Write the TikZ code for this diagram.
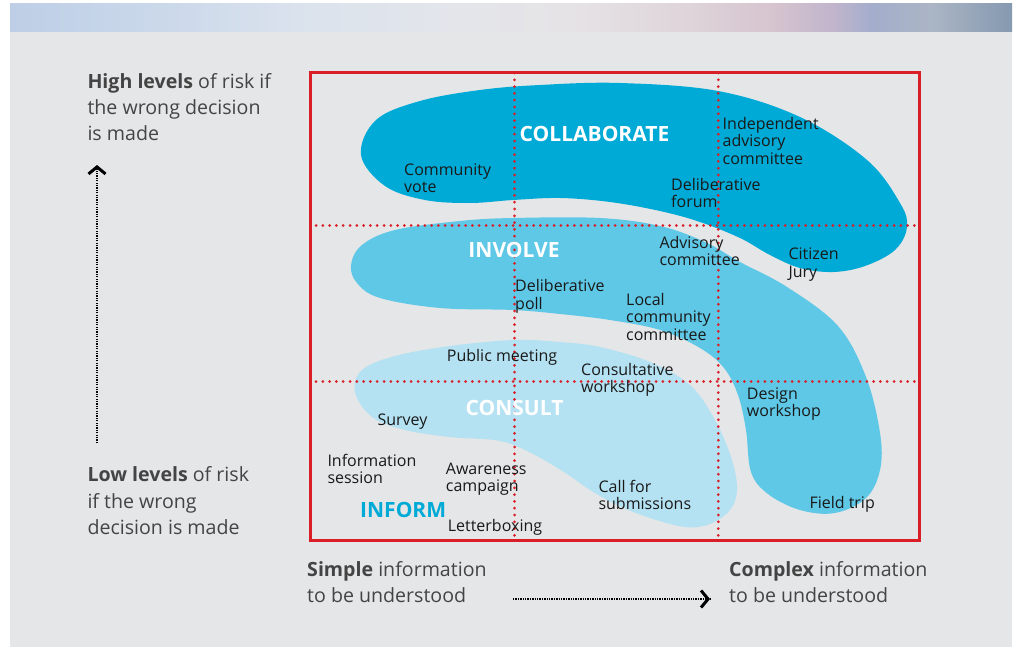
\documentclass[tikz,border=0pt]{standalone}
\usepackage{fontspec}
\setmainfont{Open Sans}
\usetikzlibrary{arrows.meta}
\definecolor{panel}{RGB}{229,230,232}
\definecolor{collab}{RGB}{0,170,214}
\definecolor{involvec}{RGB}{94,200,230}
\definecolor{consultc}{RGB}{181,226,242}
\definecolor{redline}{RGB}{218,30,40}
\definecolor{ink}{RGB}{25,25,25}
\definecolor{grayink}{RGB}{68,68,68}
\pgfdeclarehorizontalshading{bandshade}{100bp}{%
rgb(0bp)=(0.745,0.808,0.902);
rgb(25bp)=(0.745,0.808,0.902);
rgb(29bp)=(0.77,0.83,0.91);
rgb(33bp)=(0.80,0.85,0.92);
rgb(40bp)=(0.86,0.89,0.93);
rgb(47bp)=(0.89,0.9,0.92);
rgb(53bp)=(0.9,0.89,0.9);
rgb(59bp)=(0.87,0.83,0.85);
rgb(63bp)=(0.84,0.77,0.81);
rgb(66bp)=(0.76,0.71,0.80);
rgb(68bp)=(0.64,0.68,0.80);
rgb(71bp)=(0.67,0.71,0.77);
rgb(75bp)=(0.52,0.60,0.69);
rgb(100bp)=(0.52,0.60,0.69)}
\newcommand\lns[1]{\begin{tabular}[t]{@{}l@{}}#1\end{tabular}}
\begin{document}
\begin{tikzpicture}[x=1pt,y=-1pt,
  lbl/.style={anchor=base west, inner sep=0pt, text=ink, font=\fontsize{16}{17.5}\selectfont},
  side/.style={anchor=base west, inner sep=0pt, text=grayink, font=\fontsize{19.6}{26.3}\selectfont},
  stage/.style={anchor=base, inner sep=0pt, text=white, font=\fontsize{21}{21}\selectfont\bfseries},
  gridline/.style={redline, line width=3pt, line cap=round, dash pattern=on 0pt off 6.8pt},
  axisline/.style={black, line width=2pt, dash pattern=on 1.3pt off 1.1pt},
  axishead/.style={black, line width=2pt, -{Straight Barb[length=7pt,width=17pt,line width=3pt 0]}}]
\useasboundingbox (0,0) rectangle (1024,669);
\fill[white] (0,0) rectangle (1024,669);
\fill[panel] (10,4) rectangle (1012,647);
\shade[shading=bandshade] (10,4) rectangle (1012,32);

% blobs
\fill[collab] plot[smooth cycle, tension=0.6] coordinates {(361,155) (376,120) (420,101) (480,90) (540,85) (620,83) (718,91) (800,117) (867,160) (900,203) (907,227) (895,250) (865,266) (833,272) (800,268) (770,255) (740,238) (700,222) (660,211) (610,202) (560,198) (513,200) (470,203) (425,200) (385,186)};
\fill[involvec] plot[smooth cycle, tension=0.6] coordinates {(351,265) (362,245) (395,230) (460,221) (513,218) (600,218) (660,226) (705,242) (740,262) (787,287) (838,326) (866,377) (880,433) (880,470) (866,498) (835,513) (800,510) (768,494) (751,472) (746,430) (738,395) (724,368) (700,348) (660,330) (610,320) (560,314) (513,310) (440,308) (380,298) (357,283)};
\fill[consultc] plot[smooth cycle, tension=0.6] coordinates {(355,392) (362,370) (395,356) (450,346) (513,340) (560,342) (600,347) (650,362) (690,385) (715,420) (732,460) (737,490) (730,510) (710,524) (685,527) (650,518) (617,505) (590,490) (567,474) (533,454) (500,441) (450,437) (405,430) (372,417)};

% grid
\coordinate (v1t) at (514.5,73); \coordinate (v1b) at (514.5,538);
\coordinate (v2t) at (718.3,73); \coordinate (v2b) at (718.3,538);
\coordinate (h1l) at (316,225.5); \coordinate (h1r) at (916,225.5);
\coordinate (h2l) at (316,381.5); \coordinate (h2r) at (916,381.5);
\draw[gridline] (v1t) -- (v1b);
\draw[gridline] (v2t) -- (v2b);
\draw[gridline] (h1l) -- (h1r);
\draw[gridline] (h2l) -- (h2r);
\draw[redline, line width=3pt] (310.5,72.5) rectangle (919.5,540.5);

% stage names
\node[stage] (collabT) at (594.5,141.7) {COLLABORATE};
\node[stage] (involveT) at (514,257.3) {INVOLVE};
\node[stage] (consultT) at (514.5,415) {CONSULT};
\node[stage, anchor=base west, text=collab] (informT) at (360,517.3) {INFORM};

% labels
\node[lbl] (cv) at (404,175) {\lns{Community\\vote}};
\node[lbl] (iac) at (722.5,129.3) {\lns{Independent\\advisory\\committee}};
\node[lbl] (df) at (671,190) {\lns{Deliberative\\forum}};
\node[lbl] (ac) at (659.3,248.3) {\lns{Advisory\\committee}};
\node[lbl] (cj) at (788.3,259.5) {\lns{Citizen\\Jury}};
\node[lbl] (dp) at (515,291.7) {\lns{Deliberative\\poll}};
\node[lbl] (lcc) at (626,305) {\lns{Local\\community\\committee}};
\node[lbl] (pm) at (446.7,361.7) {Public meeting};
\node[lbl] (cw) at (581,375) {\lns{Consultative\\workshop}};
\node[lbl] (dw) at (746.7,399.3) {\lns{Design\\workshop}};
\node[lbl] (sv) at (377.3,425.7) {Survey};
\node[lbl] (is) at (327.3,466) {\lns{Information\\session}};
\node[lbl] (awc) at (445.7,474.3) {\lns{Awareness\\campaign}};
\node[lbl] (cfs) at (598.3,492.3) {\lns{Call for\\submissions}};
\node[lbl] (lb) at (447.7,531.7) {Letterboxing};
\node[lbl] (ft) at (809.3,508.3) {Field trip};

% axes
\node[side] (high) at (87.3,88.3) {\lns{\textbf{High levels} of risk if\\the wrong decision\\is made}};
\node[side] (low) at (87.3,481.7) {\lns{\textbf{Low levels} of risk\\if the wrong\\decision is made}};
\node[side] (simple) at (307,576) {\lns{\textbf{Simple} information\\to be understood}};
\node[side] (complex) at (729,576) {\lns{\textbf{Complex} information\\to be understood}};
\coordinate (vs) at (97,443); \coordinate (vm) at (97,170); \coordinate (ve) at (97,165);
\coordinate (hs) at (513,599); \coordinate (hm) at (705,599); \coordinate (he) at (710,599);
\draw[axisline] (vs) -- (ve);
\draw[axishead] (vm) -- (ve);
\draw[axisline] (hs) -- (he);
\draw[axishead] (hm) -- (he);
\end{tikzpicture}
\end{document}
